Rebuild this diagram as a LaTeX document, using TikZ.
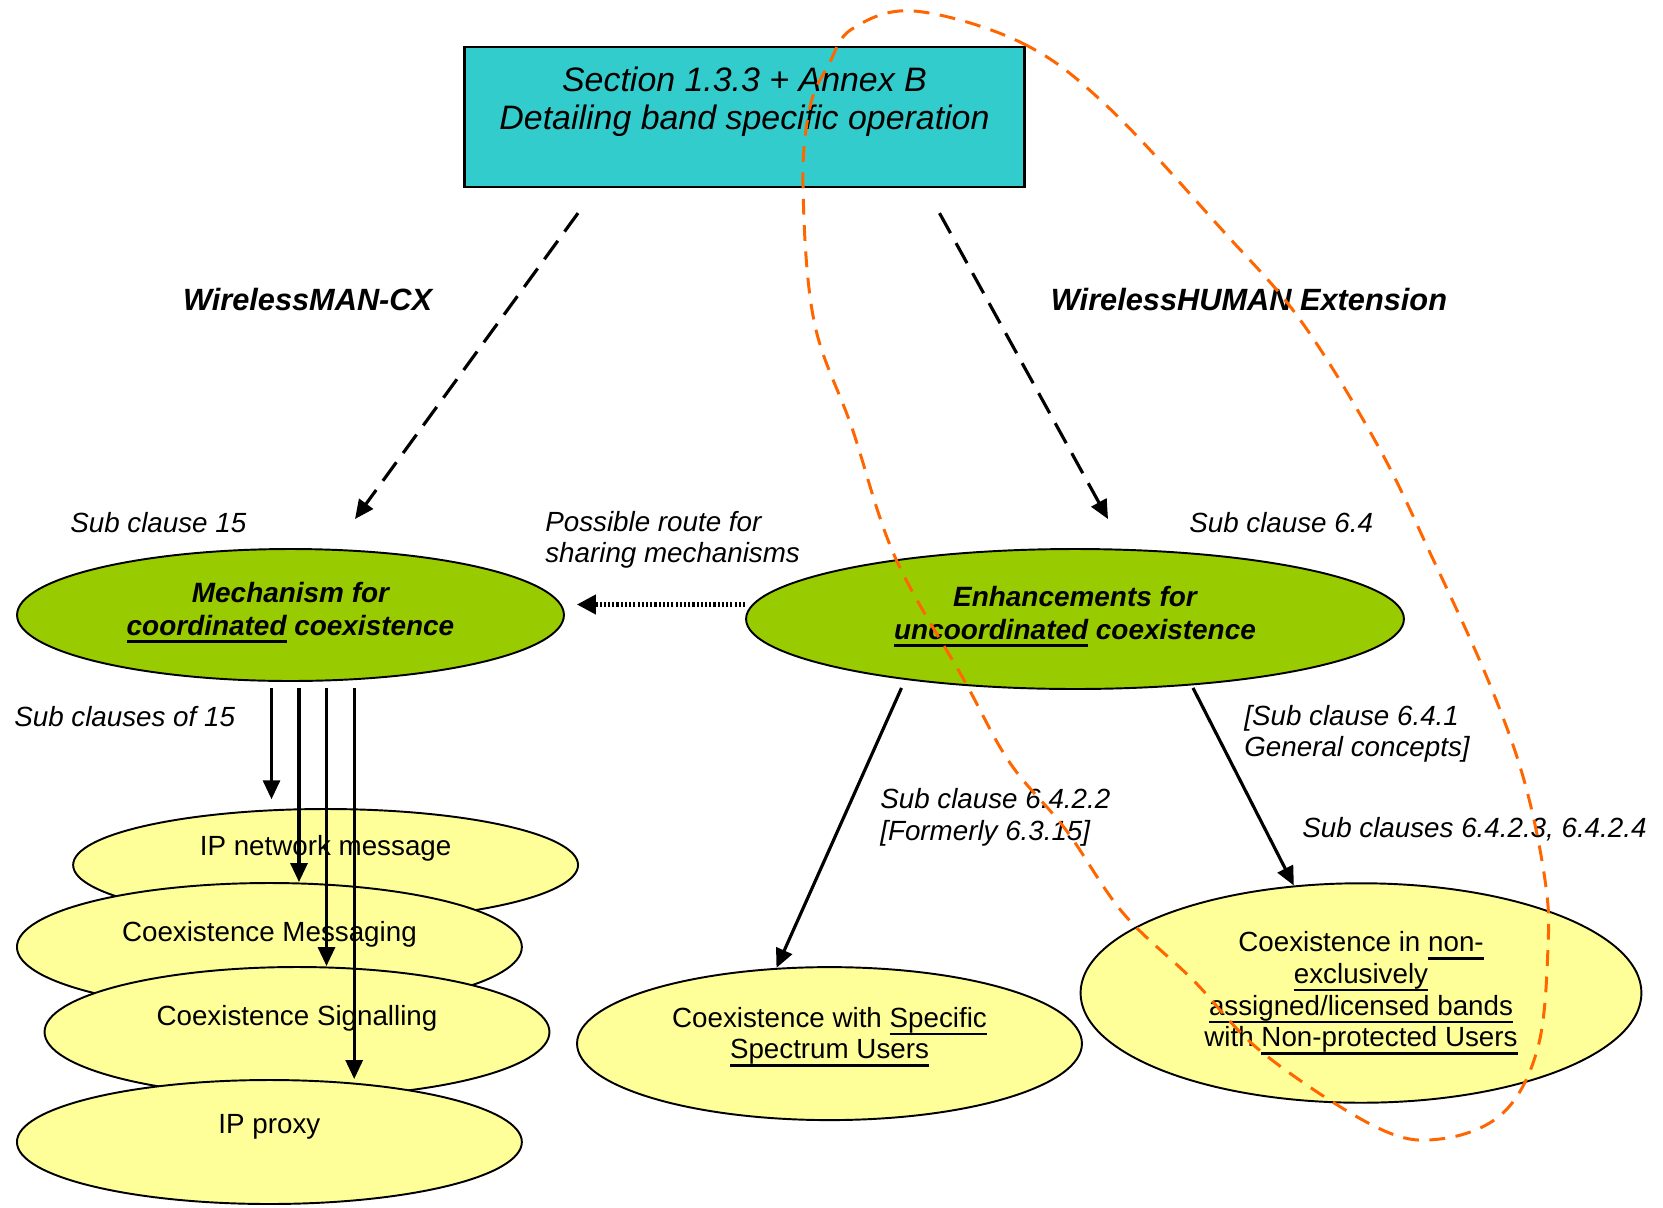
\documentclass[tikz,border=0pt]{standalone}
\usepackage{fontspec}
\setmainfont{Liberation Sans}
\usepackage{xcolor}
\definecolor{cCyan}{HTML}{33CCCC}
\definecolor{cGreen}{HTML}{99CC00}
\definecolor{cYellow}{HTML}{FFFF99}
\definecolor{cOrange}{HTML}{FF6600}
\usepackage{tikz}
\usetikzlibrary{positioning,arrows.meta,shapes.geometric,calc}
\newcommand\liftup[2]{\raisebox{#1}[\height][\depth]{\begin{tabular}{@{}c@{}}#2\end{tabular}}}
\newcommand\ulbar[2][1.3pt]{\leavevmode\setbox0\hbox{#2}%
  \rlap{\rule[-0.28em]{\wd0}{#1}}\box0\relax}
\tikzset{
  node-top/.style={draw=black,line width=1.3pt,fill=cCyan,minimum width=11.2cm,
    minimum height=2.8cm,inner sep=0pt,font=\fontsize{19.3}{21.6}\selectfont\itshape},
  node-green/.style={ellipse,draw=black,line width=1.1pt,fill=cGreen,inner sep=0pt,
    font=\fontsize{15.9}{18.7}\selectfont\bfseries\itshape},
  node-yellow/.style={ellipse,draw=black,line width=1.1pt,fill=cYellow,inner sep=0pt,
    minimum width=10.1cm,font=\fontsize{15.8}{18}\selectfont},
  text-it/.style={font=\fontsize{15.8}{17.9}\selectfont\itshape,align=left,
    inner sep=0pt,anchor=west},
  text-bf/.style={font=\fontsize{17.5}{20}\selectfont\bfseries\itshape,inner sep=0pt},
  arrow/.style={-{Triangle[length=0.38cm,width=0.34cm]},line width=1.8pt},
  arrow-dash/.style={arrow,dash pattern=on 13pt off 6.5pt},
  arrow-dot/.style={-{Triangle[length=0.38cm,width=0.38cm]},line width=2.4pt,
    dash pattern=on 1.2pt off 1.2pt},
  loop-dash/.style={draw=cOrange,line width=1.7pt,dash pattern=on 9pt off 6pt},
}
\begin{document}
\begin{tikzpicture}[x=0.02cm,y=-0.02cm]
  \useasboundingbox (0,0) rectangle (1663,1207);

  \node[node-top] (top) at (744.5,116.7)
    {\liftup{0.28cm}{Section 1.3.3 + Annex B\\Detailing band specific operation}};

  \node[text-bf] (mancx) at (307.6,300) {WirelessMAN-CX};
  \node[text-bf] (human) at (1249,300) {WirelessHUMAN Extension};

  \node[node-green,minimum width=10.94cm,minimum height=2.64cm] (mech) at (290.5,615)
    {\liftup{0.05cm}{Mechanism for\\\ulbar[2pt]{coordinated} coexistence}};
  \node[node-green,minimum width=13.16cm,minimum height=2.8cm] (enh) at (1075,619)
    {\liftup{0.05cm}{Enhancements for\\\ulbar[2pt]{uncoordinated} coexistence}};

  \node[text-it] (sc15) at (70,523) {Sub clause 15};
  \node[text-it] (sc64) at (1189,523) {Sub clause 6.4};
  \node[text-it] (route) at (545,540) {Possible route for\\sharing mechanisms};
  \node[text-it] (scof15) at (14,717) {Sub clauses of 15};
  \node[text-it] (sc6422) at (880,817.5) {Sub clause 6.4.2.2\\{[}Formerly 6.3.15]};
  \node[text-it] (sc641) at (1244,734) {{[}Sub clause 6.4.1\\General concepts]};
  \node[text-it] (sc6423) at (1302,829) {Sub clauses 6.4.2.3, 6.4.2.4};

  % stacked sub clauses of 15
  \node[node-yellow,minimum height=2.24cm] (ipnet) at (325.6,865)
    {\liftup{0.32cm}{IP network message}};
  \node[node-yellow,minimum height=2.56cm] (msg) at (269.4,947)
    {\liftup{0.24cm}{Coexistence Messaging}};
  \node[node-yellow,minimum height=2.6cm] (sig) at (297,1032)
    {\liftup{0.26cm}{Coexistence Signalling}};
  \node[node-yellow,minimum height=2.48cm] (proxy) at (269.4,1142)
    {\liftup{0.3cm}{IP proxy}};

  \node[node-yellow,minimum height=3.06cm] (spec) at (829.5,1043.6)
    {\liftup{0.14cm}{Coexistence with \ulbar{Specific}\\\ulbar{Spectrum Users}}};
  \node[node-yellow,minimum width=11.22cm,minimum height=4.39cm] (nonex) at (1361,993)
    {\liftup{0cm}{Coexistence in \ulbar{non-}\\\ulbar{exclusively}\\
      \ulbar{assigned/licensed bands}\\with \ulbar{Non-protected Users}}};

  \draw[arrow-dash] ($(top.south)+(-166.5,25.3)$) -- ($(mech.north)+(64.5,-29)$);
  \draw[arrow-dash] ($(top.south)+(195,25.3)$) -- ($(enh.north)+(33,-29)$);
  \draw[arrow-dot] ($(enh.west)+(0,-14.5)$) -- ($(mech.east)+(12,-10.5)$);

  \foreach \dx/\tgt/\gap in {-19/ipnet/5pt, 8.5/msg/0pt, 36/sig/0pt, 63.7/proxy/0pt}
    \draw[arrow,shorten >=\gap] ($(mech.south)+(\dx,6)$) coordinate (s) -- (s |- \tgt.north);

  \draw[arrow] ($(enh.south)+(-173.5,-2)$) -- (spec.125);
  \draw[arrow] ($(enh.south)+(118,-2)$) -- (nonex.122);

  % band specific region
  \draw[loop-dash] plot[smooth cycle,tension=0.6] coordinates {
    (914,11) (1022,43) (1108,107) (1224,232) (1301,321) (1378,446) (1432,557)
    (1488,680) (1524,780) (1545,880) (1548,947) (1538,1047) (1503,1113)
    (1440,1139) (1376,1127) (1263,1053) (1193,980) (1123,913) (1066,830)
    (1010,763) (964,680) (895,557) (852,428) (814,321) (803,186) (810,107)
    (829,64) (852,29)};
\end{tikzpicture}
\end{document}
